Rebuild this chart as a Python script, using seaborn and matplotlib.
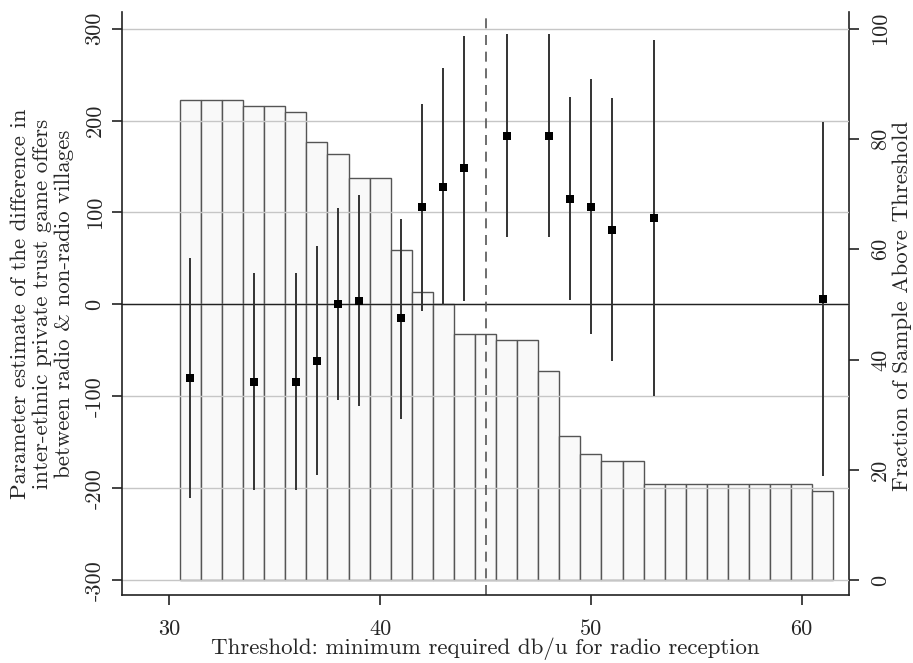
import matplotlib
matplotlib.use("Agg")
import matplotlib.pyplot as plt
import seaborn as sns
import pandas as pd

# Fraction of sample above each threshold (right axis, percent)
thresholds = list(range(31, 62))
frac_above = [87.1, 87.1, 87.1, 86.0, 86.0, 84.9, 79.5, 77.3, 72.9, 72.9,
              59.9, 52.3, 50.0, 44.6, 44.6, 43.5, 43.5, 38.0, 26.1, 22.9,
              21.7, 21.7, 17.4, 17.4, 17.4, 17.4, 17.4, 17.4, 17.4, 17.4, 16.2]

# Parameter estimates with confidence intervals (left axis)
est_x = [31, 34, 36, 37, 38, 39, 41, 42, 43, 44, 46, 48, 49, 50, 51, 53, 61]
est = [-80, -84, -84, -62, 0, 4, -15, 106, 128, 148, 183, 183, 115, 106, 81, 94, 6]
ci_lo = [-211, -202, -202, -186, -104, -111, -125, -7, -1, 4, 73, 73, 5, -32, -62, -100, -187]
ci_hi = [50, 34, 34, 63, 105, 119, 93, 218, 257, 292, 294, 294, 226, 245, 224, 288, 198]

left_ticks = [-300, -200, -100, 0, 100, 200, 300]
right_ticks = [0, 20, 40, 60, 80, 100]
x_ticks = [30, 40, 50, 60]
cutoff = 45

sns.set_style("white")
plt.rcParams['font.family'] = ['cmr10', 'DejaVu Serif']
plt.rcParams['font.size'] = 16.5

bars = pd.DataFrame({'threshold': thresholds, 'frac': frac_above})
points = pd.DataFrame({'threshold': est_x, 'est': est})

fig = plt.figure(figsize=(9.13, 6.63), dpi=100)
ax = fig.add_axes([0.1336, 0.1026, 0.7964, 0.8793])
ax2 = ax.twinx()

# histogram-like bars on the right axis
sns.barplot(data=bars, x='threshold', y='frac', native_scale=True, width=1,
            color='#f9f9f9', edgecolor='#555555', linewidth=1, saturation=1,
            ax=ax2)
ax2.set_ylim(-16.0 / 6, 103.0)
ax2.set_yticks(right_ticks)
ax2.set_yticklabels([str(t) for t in right_ticks], rotation=90, va='center',
                    fontsize=16)
ax2.set_ylabel('')
ax2.set_xlabel('')
fig.text(902 / 913, 1 - 306 / 663, 'Fraction of Sample Above Threshold',
         rotation=90, ha='center', va='center', fontsize=16.5)

# estimates on the left axis, drawn above the bars
ax.set_zorder(ax2.get_zorder() + 1)
ax.patch.set_visible(False)
for t in left_ticks:
    ax.axhline(t, color='#c6c6c6', lw=1, zorder=1)
ax.axhline(0, color='#222222', lw=1, zorder=2)
ax.axvline(cutoff, color='#555555', lw=1.2, ls=(0, (6, 4)), zorder=2)
ax.vlines(est_x, ci_lo, ci_hi, color='#333333', lw=1.4, zorder=3)
sns.scatterplot(data=points, x='threshold', y='est', marker='s', s=30,
                color='black', edgecolor='black', linewidth=0, zorder=4,
                ax=ax, legend=False)

ax.set_xlim(27.75, 62.25)
ax.set_ylim(-316, 318)
ax.set_xticks(x_ticks)
ax.set_xticklabels([str(t) for t in x_ticks], fontsize=16)
ax.set_yticks(left_ticks)
ax.set_yticklabels([str(t) for t in left_ticks], rotation=90, va='center',
                   fontsize=16)
ax.set_xlabel('Threshold: minimum required db/u for radio reception',
              labelpad=-1)
ax.set_ylabel('')
fig.text(42 / 913, 1 - 304 / 663,
         'Parameter estimate of the difference in\n'
         'inter-ethnic private trust game offers\n'
         'between radio & non-radio villages',
         rotation=90, ha='center', va='center', ma='center',
         fontsize=16.5, linespacing=1.15)

for a in (ax, ax2):
    for s in a.spines.values():
        s.set_visible(False)
    a.tick_params(axis='both', direction='out', length=7.5, width=1.2,
                  color='#222222')
ax.spines['left'].set_visible(True)
ax.spines['bottom'].set_visible(True)
ax2.spines['right'].set_visible(True)
for s in (ax.spines['left'], ax.spines['bottom'], ax2.spines['right']):
    s.set_color('#222222')
    s.set_linewidth(1.2)
ax.tick_params(axis='y', left=True, right=False, pad=5)
ax.tick_params(axis='x', bottom=True, pad=10)
ax2.tick_params(axis='y', right=True, left=False, pad=8)

fig.savefig('out.png', dpi=100)
